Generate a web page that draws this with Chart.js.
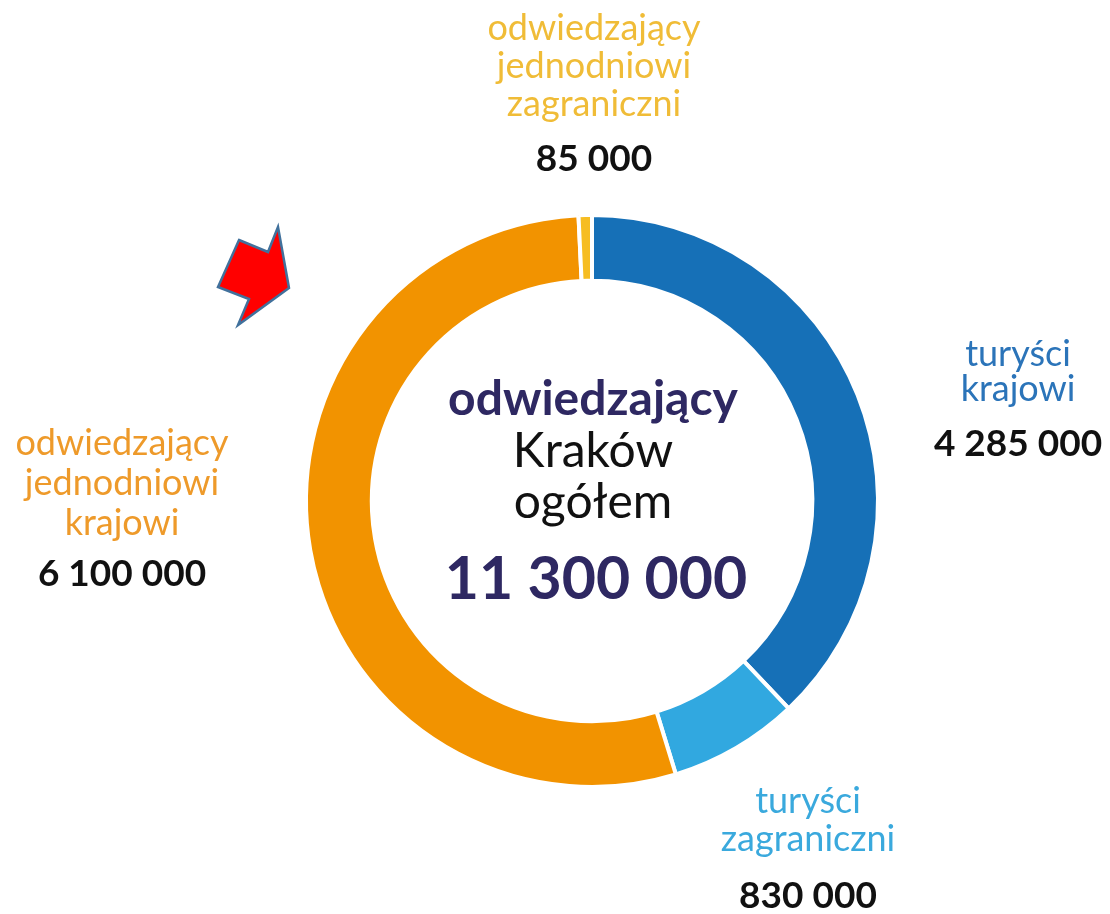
<!DOCTYPE html>
<html>
<head>
<meta charset="utf-8">
<script src="https://cdn.jsdelivr.net/npm/chart.js@4.4.1/dist/chart.umd.min.js"></script>
<style>
  html, body { margin: 0; padding: 0; background: #ffffff; }
  #wrap { width: 1110px; height: 914px; position: relative; }
</style>
</head>
<body>
<div id="wrap"><canvas id="c" width="1110" height="914"></canvas></div>
<script>
// ---- data ----
const categories = [
  ["turyści", "krajowi"],
  ["turyści", "zagraniczni"],
  ["odwiedzający", "jednodniowi", "krajowi"],
  ["odwiedzający", "jednodniowi", "zagraniczni"]
];
const values = [4285000, 830000, 6100000, 85000];
const valueLabels = ["4 285 000", "830 000", "6 100 000", "85 000"];
const centerTitle = ["odwiedzający", "Kraków", "ogółem"];
const totalLabel = "11 300 000";

// ---- styles ----
const sliceColors = ["#1670b7", "#31a8e0", "#f29300", "#f6bd22"];
const labelColors = ["#2b74b9", "#3aa9dd", "#ee9a2a", "#f0bc37"];
// label anchor positions (center x, first line y) per slice
const labelPos = [
  { x: 1018, y: 354, lh: 35, gap: 55 },
  { x: 808, y: 801, lh: 38, gap: 57 },
  { x: 122, y: 443, lh: 40, gap: 51 },
  { x: 594, y: 28, lh: 38, gap: 55 }
];

const textPlugin = {
  id: 'texts',
  afterDraw(chart) {
    const ctx = chart.ctx;
    ctx.save();
    ctx.textAlign = 'center';
    ctx.textBaseline = 'middle';
    // slice labels
    categories.forEach((lines, i) => {
      const p = labelPos[i];
      ctx.fillStyle = labelColors[i];
      ctx.font = '400 36px Lato';
      lines.forEach((t, k) => ctx.fillText(t, p.x, p.y + k * p.lh));
      ctx.fillStyle = '#111111';
      ctx.font = '700 37px Lato';
      ctx.fillText(valueLabels[i], p.x, p.y + (lines.length - 1) * p.lh + p.gap);
    });
    // center
    const meta = chart.getDatasetMeta(0).data[0];
    const cx = meta.x, cy = meta.y;
    ctx.fillStyle = '#2e2862';
    ctx.font = '700 48px Lato';
    ctx.fillText(centerTitle[0], cx + 1, cy - 101);
    ctx.fillStyle = '#111111';
    ctx.font = '400 48px Lato';
    ctx.fillText(centerTitle[1], cx + 1, cy - 49);
    ctx.fillText(centerTitle[2], cx + 1, cy + 2);
    ctx.fillStyle = '#2e2862';
    ctx.font = '700 59px Lato';
    ctx.fillText(totalLabel, cx + 4, cy + 79);
    // red arrow decoration
    ctx.beginPath();
    const pts = [[239,240],[268,252],[278,227],[289,288],[238,325],[249,299],[218,287]];
    pts.forEach((q, k) => k ? ctx.lineTo(q[0], q[1]) : ctx.moveTo(q[0], q[1]));
    ctx.closePath();
    ctx.fillStyle = '#ff0000';
    ctx.fill();
    ctx.lineWidth = 2.5;
    ctx.strokeStyle = '#41719c';
    ctx.stroke();
    ctx.restore();
  }
};

new Chart(document.getElementById('c'), {
  type: 'doughnut',
  data: {
    labels: categories.map(l => l.join(' ')),
    datasets: [{
      data: values,
      backgroundColor: sliceColors,
      borderColor: '#ffffff',
      borderWidth: 4,
      hoverOffset: 0
    }]
  },
  options: {
    responsive: false,
    animation: false,
    cutout: '77%',
    layout: { padding: { left: 303, right: 229, top: 213, bottom: 125 } },
    plugins: { legend: { display: false }, tooltip: { enabled: false } }
  },
  plugins: [textPlugin]
});
</script>
</body>
</html>
